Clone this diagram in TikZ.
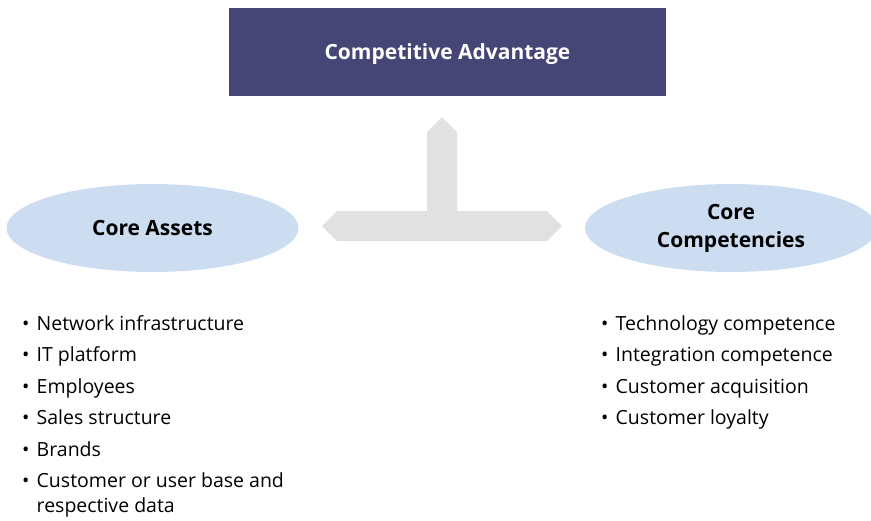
\documentclass[tikz,border=0pt]{standalone}
\usepackage{fontspec}
\setmainfont{Open Sans}
\usetikzlibrary{shapes.geometric}
\definecolor{boxblue}{HTML}{454576}
\definecolor{ellblue}{HTML}{CCDCF1}
\definecolor{arrowgray}{HTML}{E1E1E1}
\tikzset{
  px/.style={x=1pt,y=-1pt},
  titlebox/.style={fill=boxblue,draw=none,minimum width=437pt,minimum height=88pt,inner sep=0pt},
  titletext/.style={text=white,inner sep=0pt,font=\fontsize{21}{24}\selectfont\bfseries},
  ellnode/.style={ellipse,fill=ellblue,draw=none,minimum width=292pt,minimum height=88pt,inner sep=0pt,align=center,font=\fontsize{21}{28}\selectfont\bfseries},
  item/.style={anchor=base west,inner sep=0pt,font=\fontsize{19.5}{24}\selectfont},
  arrowshape/.style={fill=arrowgray,draw=none}
}
\newcommand{\bul}{\makebox[14.5pt][l]{•}}
\begin{document}
\begin{tikzpicture}[px]
\useasboundingbox (0,0) rectangle (871,520);
\begin{scope}
\clip (0,0) rectangle (871,520);
\node[titlebox] (ca) at (447.5,52) {};
\node[titletext] (catext) at (447.5,54) {Competitive Advantage};
\node[ellnode] (assets) at (152.5,228) {Core Assets};
\node[ellnode] (comp) at (731,228) {Core\\Competencies};
% arrows
\fill[arrowshape] (427,211) -- (427,132) -- (442,117) -- (457,132) -- (457,211) -- cycle;
\fill[arrowshape] (442,211) -- (337,211) -- (322,226) -- (337,241) -- (442,241) -- cycle;
\fill[arrowshape] (442,211) -- (547,211) -- (562,226) -- (547,241) -- (442,241) -- cycle;
% left list
\node[item] (a1) at (22,330) {\bul Network infrastructure};
\node[item] (a2) at (22,361.5) {\bul IT platform};
\node[item] (a3) at (22,393) {\bul Employees};
\node[item] (a4) at (22,424.5) {\bul Sales structure};
\node[item] (a5) at (22,456) {\bul Brands};
\node[item] (a6) at (22,487.5) {\bul Customer or user base and};
\node[item] (a7) at (36.5,512) {respective data};
% right list
\node[item] (c1) at (601,330) {\bul Technology competence};
\node[item] (c2) at (601,361.5) {\bul Integration competence};
\node[item] (c3) at (601,393) {\bul Customer acquisition};
\node[item] (c4) at (601,424.5) {\bul Customer loyalty};
\end{scope}
\end{tikzpicture}
\end{document}
